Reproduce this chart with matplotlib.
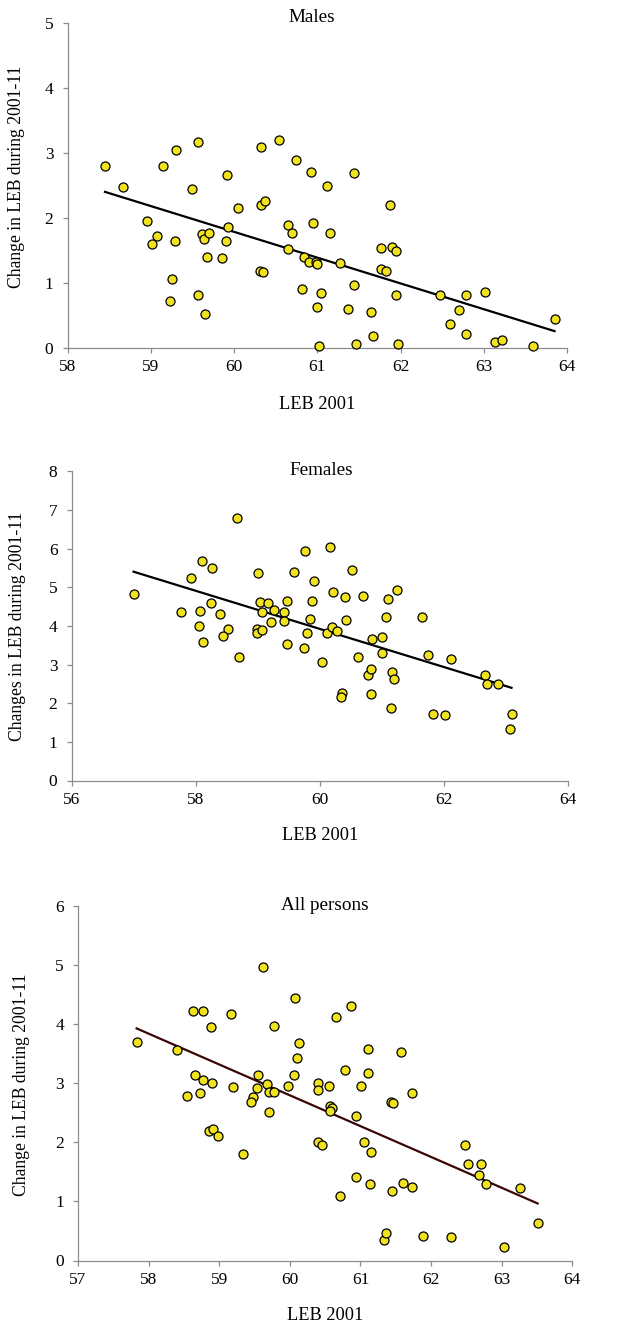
import numpy as np
import matplotlib
matplotlib.use('Agg')
import matplotlib.pyplot as plt

plt.rcParams['font.family'] = ['Liberation Serif', 'DejaVu Serif']

# Males: LEB 2001 vs change 2001-11
males_leb = [58.45, 58.67, 59.15, 59.30, 59.57, 59.50, 59.92, 60.32, 60.54, 60.75,
             60.92, 61.12, 61.44, 60.32, 60.37, 60.05, 61.87, 58.95, 59.07, 59.02,
             59.29, 59.62, 59.64, 59.70, 59.93, 59.90, 59.67, 59.85, 60.65, 60.70,
             60.95, 61.15, 60.65, 60.84, 60.90, 60.98, 61.00, 61.27, 61.77, 61.90,
             61.95, 61.77, 61.82, 60.31, 60.35, 59.25, 59.23, 59.57, 59.65, 60.82,
             61.05, 61.00, 61.44, 61.37, 61.64, 61.67, 61.02, 61.47, 61.97, 61.94,
             62.47, 62.79, 63.02, 62.70, 62.60, 62.79, 63.14, 63.22, 63.59, 63.85]
males_chg = [2.80, 2.47, 2.79, 3.04, 3.16, 2.44, 2.65, 3.08, 3.19, 2.89,
             2.70, 2.48, 2.69, 2.20, 2.25, 2.14, 2.19, 1.95, 1.71, 1.59,
             1.64, 1.74, 1.67, 1.76, 1.85, 1.64, 1.39, 1.38, 1.89, 1.76,
             1.92, 1.76, 1.52, 1.40, 1.31, 1.32, 1.28, 1.30, 1.53, 1.55,
             1.49, 1.21, 1.17, 1.17, 1.16, 1.06, 0.72, 0.81, 0.51, 0.90,
             0.84, 0.62, 0.96, 0.59, 0.55, 0.17, 0.03, 0.05, 0.06, 0.81,
             0.81, 0.81, 0.86, 0.58, 0.36, 0.21, 0.08, 0.11, 0.02, 0.44]

# Females
females_leb = [57.00, 58.67, 58.10, 58.27, 57.92, 59.00, 59.59, 59.77, 60.17, 60.52,
               59.90, 60.22, 60.40, 60.69, 61.24, 61.10, 57.77, 58.07, 58.25, 58.40,
               59.04, 59.17, 59.07, 59.27, 59.42, 59.47, 59.22, 59.42, 59.87, 59.84,
               60.42, 61.07, 61.65, 58.05, 58.52, 58.12, 58.44, 58.99, 58.99, 59.07,
               59.47, 59.79, 60.11, 60.19, 60.27, 59.75, 60.84, 61.01, 61.01, 61.74,
               62.12, 58.70, 60.04, 60.62, 60.77, 60.82, 61.16, 61.19, 60.36, 60.34,
               60.82, 61.14, 61.82, 62.02, 62.66, 62.69, 62.87, 63.09, 63.07]
females_chg = [4.82, 6.79, 5.69, 5.49, 5.24, 5.38, 5.40, 5.95, 6.04, 5.44,
               5.15, 4.89, 4.76, 4.77, 4.93, 4.69, 4.37, 4.38, 4.59, 4.31,
               4.61, 4.58, 4.37, 4.42, 4.36, 4.64, 4.10, 4.12, 4.64, 4.17,
               4.16, 4.22, 4.24, 3.99, 3.92, 3.59, 3.74, 3.93, 3.82, 3.89,
               3.52, 3.82, 3.82, 3.96, 3.88, 3.43, 3.66, 3.71, 3.30, 3.26,
               3.15, 3.20, 3.06, 3.20, 2.73, 2.88, 2.81, 2.63, 2.27, 2.17,
               2.25, 1.87, 1.71, 1.70, 2.74, 2.49, 2.49, 1.73, 1.32]

# All persons
all_leb = [57.83, 58.40, 58.63, 58.77, 58.88, 59.16, 59.62, 60.08, 59.78, 60.86,
           60.65, 60.13, 60.10, 61.11, 61.58, 60.78, 61.11, 58.65, 58.77, 58.90,
           59.55, 60.06, 59.20, 59.53, 59.68, 59.71, 59.78, 59.98, 60.40, 60.40,
           60.55, 61.01, 61.73, 58.55, 58.73, 59.48, 61.43, 59.45, 59.70, 60.57,
           60.59, 60.57, 61.46, 60.93, 58.85, 58.91, 58.98, 59.33, 60.40, 60.46,
           61.05, 61.15, 62.48, 62.53, 62.71, 62.68, 62.78, 63.26, 60.93, 61.13,
           61.60, 61.73, 61.45, 60.71, 61.33, 61.36, 61.89, 62.28, 63.03, 63.51]
all_chg = [3.69, 3.56, 4.22, 4.22, 3.96, 4.18, 4.96, 4.44, 3.97, 4.31,
           4.12, 3.68, 3.42, 3.58, 3.53, 3.23, 3.18, 3.14, 3.06, 3.01,
           3.14, 3.14, 2.94, 2.92, 2.98, 2.85, 2.85, 2.96, 3.00, 2.88,
           2.96, 2.96, 2.83, 2.78, 2.83, 2.76, 2.69, 2.69, 2.52, 2.61,
           2.58, 2.53, 2.66, 2.44, 2.19, 2.23, 2.10, 1.81, 2.00, 1.96,
           2.01, 1.84, 1.96, 1.64, 1.63, 1.45, 1.29, 1.22, 1.41, 1.30,
           1.31, 1.25, 1.17, 1.09, 0.35, 0.46, 0.42, 0.40, 0.23, 0.64]

W, H = 639, 1326
fig = plt.figure(figsize=(W / 100, H / 100), dpi=100)


def px_axes(left, right, top, bottom):
    return fig.add_axes([left / W, 1 - bottom / H, (right - left) / W, (bottom - top) / H])


def panel(ax, x, y, xlim, xstep, ylim, line_color):
    x = np.array(x)
    y = np.array(y)
    # least-squares trend line, drawn over the range of the data
    b, a = np.polyfit(x, y, 1)
    xs = np.array([x.min(), x.max()])
    ax.plot(xs, a + b * xs, color=line_color, lw=1.6, zorder=2)
    ax.plot(x, y, 'o', ms=6.5, mfc='#f0e21e', mec='black', mew=0.9, zorder=3, clip_on=False)
    ax.set_xlim(*xlim)
    ax.set_ylim(*ylim)
    ax.set_xticks(np.arange(xlim[0], xlim[1] + 0.1, xstep))
    ax.set_yticks(np.arange(ylim[0], ylim[1] + 0.1, 1))
    for s in ['top', 'right']:
        ax.spines[s].set_visible(False)
    for s in ['left', 'bottom']:
        ax.spines[s].set_color('#8c8c8c')
        ax.spines[s].set_linewidth(0.9)
    ax.tick_params(direction='out', length=3.6, width=0.9, color='#8c8c8c',
                   labelsize=12.5)
    ax.tick_params(axis='x', pad=4.5)
    ax.tick_params(axis='y', pad=6.5)


ax1 = px_axes(67.5, 567, 22.7, 347.5)
panel(ax1, males_leb, males_chg, (58, 64), 1, (0, 5), 'black')
ax2 = px_axes(71.5, 568, 471.3, 780.5)
panel(ax2, females_leb, females_chg, (56, 64), 2, (0, 8), 'black')
ax3 = px_axes(78, 572.3, 906, 1260.5)
panel(ax3, all_leb, all_chg, (57, 64), 1, (0, 6), '#3a0505')

fs = 12.7
tfs = 13.8
fig.text(312 / W, 1 - 22 / H, 'Males', ha='center', va='baseline', fontsize=tfs)
fig.text(321 / W, 1 - 475 / H, 'Females', ha='center', va='baseline', fontsize=tfs)
fig.text(325 / W, 1 - 910.5 / H, 'All persons', ha='center', va='baseline', fontsize=tfs)

fig.text(317 / W, 1 - 409 / H, 'LEB 2001', ha='center', va='baseline', fontsize=13.2)
fig.text(320 / W, 1 - 840.5 / H, 'LEB 2001', ha='center', va='baseline', fontsize=13.2)
fig.text(325 / W, 1 - 1320 / H, 'LEB 2001', ha='center', va='baseline', fontsize=13.2)

fig.text(17 / W, 1 - 177 / H, 'Change in LEB during 2001-11', rotation=90,
         ha='center', va='center', fontsize=fs)
fig.text(18 / W, 1 - 626 / H, 'Changes in LEB during 2001-11', rotation=90,
         ha='center', va='center', fontsize=fs)
fig.text(22 / W, 1 - 1085 / H, 'Change in LEB during 2001-11', rotation=90,
         ha='center', va='center', fontsize=fs)

fig.savefig('out.png', dpi=100)
